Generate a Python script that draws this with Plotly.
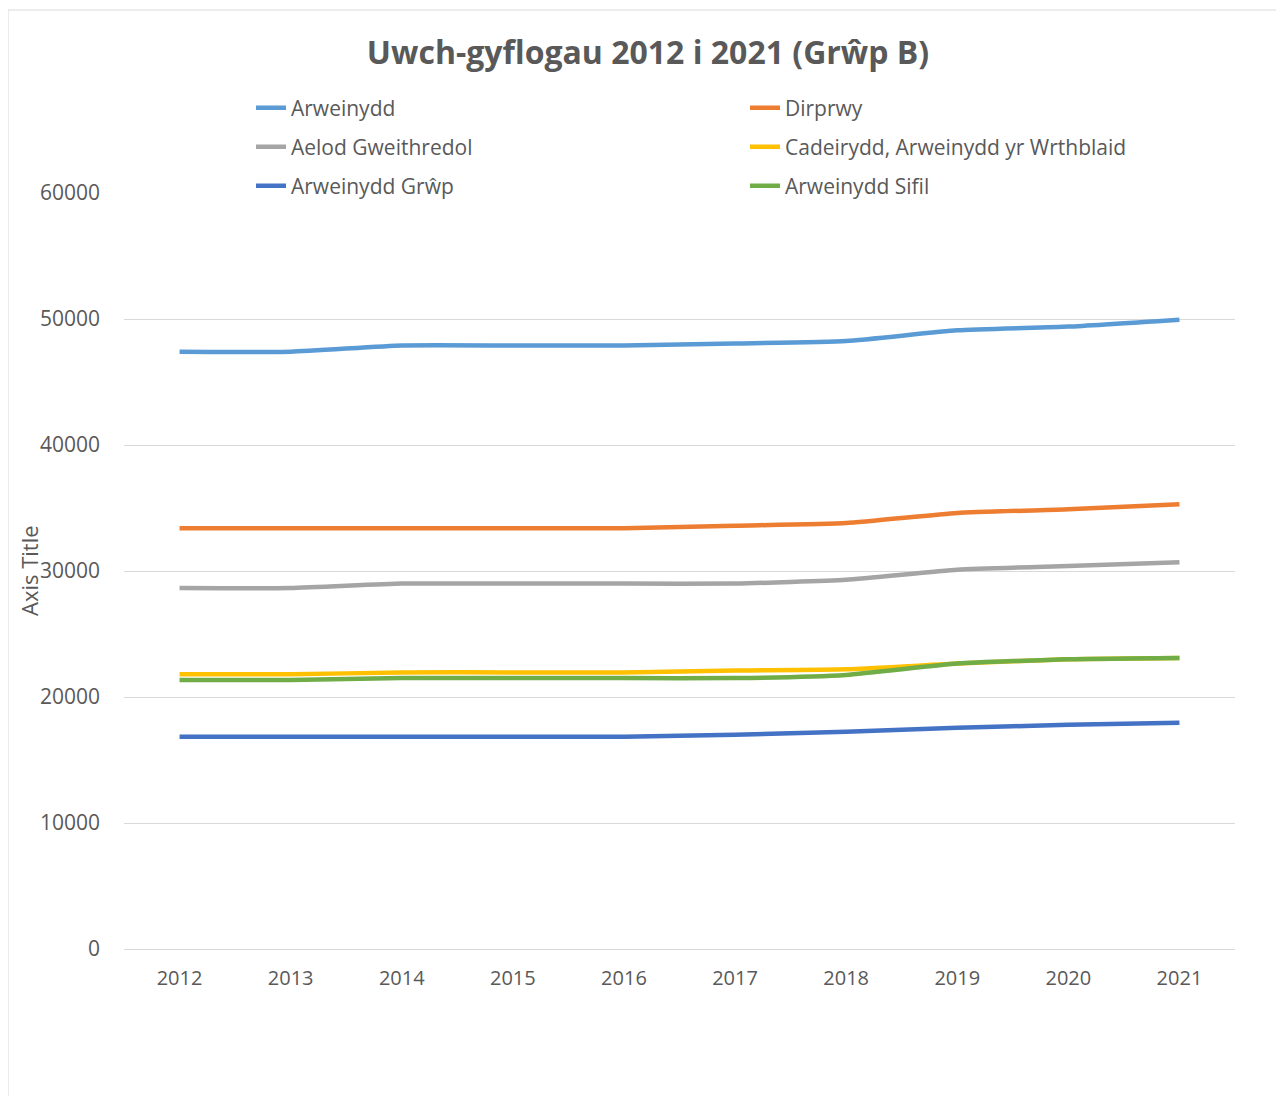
import plotly.graph_objects as go

years = ["2012", "2013", "2014", "2015", "2016", "2017", "2018", "2019", "2020", "2021"]

arweinydd = [47400, 47400, 47900, 47900, 47900, 48050, 48250, 49100, 49400, 49950]
dirprwy = [33400, 33400, 33400, 33400, 33400, 33600, 33800, 34600, 34900, 35300]
aelod_gweithredol = [28650, 28650, 29000, 29000, 29000, 29000, 29300, 30100, 30400, 30700]
cadeirydd = [21800, 21800, 21950, 21950, 21950, 22100, 22200, 22650, 23000, 23100]
arweinydd_grwp = [16850, 16850, 16850, 16850, 16850, 17000, 17250, 17550, 17800, 17950]
arweinydd_sifil = [21350, 21350, 21500, 21500, 21500, 21500, 21750, 22650, 23000, 23100]

series = [
    ("Arweinydd", arweinydd, "#5b9bd5", "legend"),
    ("Dirprwy", dirprwy, "#ed7d31", "legend"),
    ("Aelod Gweithredol", aelod_gweithredol, "#a5a5a5", "legend2"),
    ("Cadeirydd, Arweinydd yr Wrthblaid", cadeirydd, "#ffc000", "legend2"),
    ("Arweinydd Grŵp", arweinydd_grwp, "#4472c4", "legend3"),
    ("Arweinydd Sifil", arweinydd_sifil, "#70ad47", "legend3"),
]

FONT = "Open Sans, sans-serif"
GRAY = "#595959"

fig = go.Figure()
for name, vals, color, lg in series:
    fig.add_trace(go.Scatter(
        x=years, y=vals, name=name, mode="lines",
        line=dict(color=color, width=4.5, shape="spline", smoothing=0.5),
        legend=lg,
    ))

# the page body has an 8px margin on every side; keep the figure inside the window
OFF = 8
W, H = 1284 - 2 * OFF, 1104 - 2 * OFF
PL, PR, PT, PB = 124, 1235, 193, 949          # plot area in page pixels
L, T = PL - OFF, PT - OFF
R, B = W - (PR - OFF), H - (PB - OFF)
pw, ph = W - L - R, H - T - B

def py(y_page):
    return (PB - y_page) / ph

def px(x_page):
    return (x_page - PL) / pw

legend_common = dict(
    orientation="h", entrywidth=449, entrywidthmode="pixels",
    font=dict(family=FONT, size=21, color=GRAY),
    bgcolor="rgba(0,0,0,0)", xanchor="left", yanchor="middle",
    traceorder="normal", itemwidth=30, borderwidth=0,
)
LEG_X = px(251)

fig.update_layout(
    width=W, height=H,
    margin=dict(l=L, r=R, t=T, b=B),
    paper_bgcolor="white", plot_bgcolor="white",
    title=dict(
        text="<b>Uwch-gyflogau 2012 i 2021 (Grŵp B)</b>",
        x=px(648), xanchor="center", xref="paper",
        y=1 - (53 - OFF) / H, yanchor="middle",
        font=dict(family=FONT, size=32, color=GRAY),
    ),
    legend=dict(x=LEG_X, y=py(108), **legend_common),
    legend2=dict(x=LEG_X, y=py(147), **legend_common),
    legend3=dict(x=LEG_X, y=py(186), **legend_common),
    xaxis=dict(
        type="category", range=[-0.5, 9.5],
        showgrid=False, showline=False, zeroline=False,
        ticks="", tickfont=dict(family=FONT, size=20, color=GRAY),
        ticklabelstandoff=15,
    ),
    yaxis=dict(
        range=[0, 60000], dtick=10000, tickformat="d",
        showgrid=True, gridcolor="#d9d9d9", gridwidth=1,
        zeroline=True, zerolinecolor="#d9d9d9", zerolinewidth=1,
        showline=False, ticks="",
        tickfont=dict(family=FONT, size=21, color=GRAY),
        ticklabelstandoff=23,
    ),
    annotations=[dict(
        text="Axis Title", textangle=-90, showarrow=False,
        xref="paper", yref="paper", x=px(29), y=py(571),
        xanchor="center", yanchor="middle",
        font=dict(family=FONT, size=22, color=GRAY),
    )],
    shapes=[dict(
        type="rect", xref="paper", yref="paper",
        x0=px(8), x1=px(1300), y0=py(1120), y1=py(10),
        line=dict(color="#d9d9d9", width=1), fillcolor="rgba(0,0,0,0)", layer="below",
    )],
)

fig.write_html("out.html")
